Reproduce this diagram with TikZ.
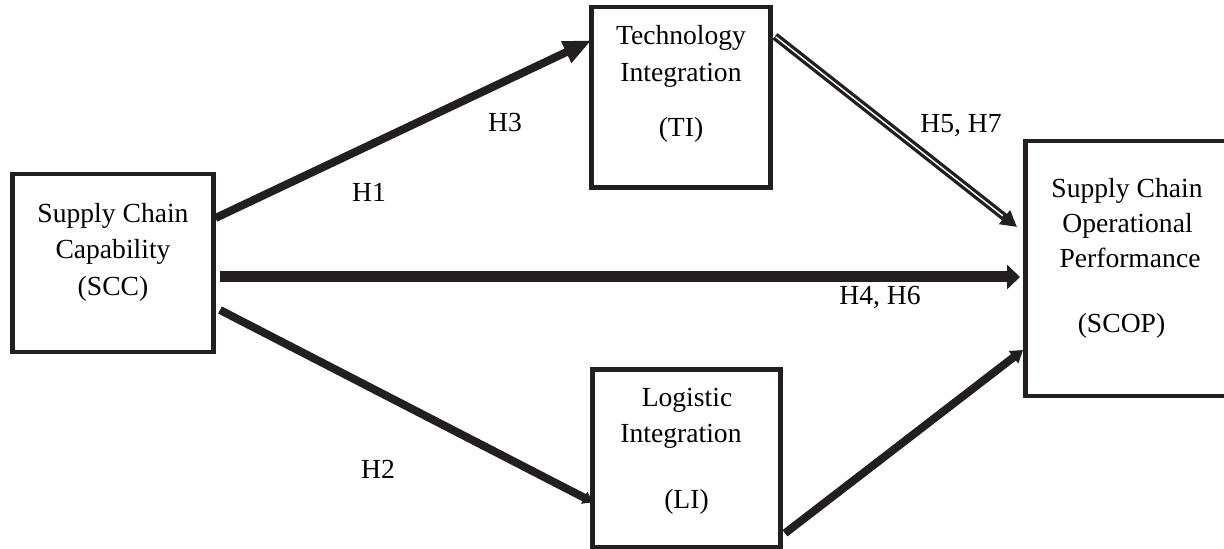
\documentclass[tikz,border=0pt]{standalone}
\usepackage{fontspec}
\setmainfont{Liberation Serif}
\usetikzlibrary{arrows.meta,calc}
\definecolor{ink}{RGB}{35,31,32}
\begin{document}
\begin{tikzpicture}[x=0.5pt,y=-0.5pt,
  box/.style={draw=ink, line width=2.4pt, rectangle, inner sep=0pt, outer sep=0pt},
  txt/.style={anchor=base, inner sep=0pt, text=black, font=\fontsize{13.8}{18}\selectfont},
  conn/.style={draw=ink, line width=4pt},
]
\clip (0,0) rectangle (1224,549);
% boxes
\node[box, minimum width=100.5pt, minimum height=89pt] (scc) at (113,263) {};
\node[box, minimum width=89.5pt, minimum height=90.25pt] (ti) at (681,97.25) {};
\node[box, minimum width=94pt, minimum height=88.75pt] (li) at (686.5,458.25) {};
\node[box, minimum width=109.75pt, minimum height=127.5pt] (scop) at (1135.25,268.5) {};
% box texts
\node[txt] (scc1) at (113,223) {Supply Chain};
\node[txt] (scc2) at (113,259) {Capability};
\node[txt] (scc3) at (113,296) {(SCC)};
\node[txt] (ti1) at (681,45) {Technology};
\node[txt] (ti2) at (681,82) {Integration};
\node[txt] (ti3) at (681,137) {(TI)};
\node[txt] (li1) at (687,407) {Logistic};
\node[txt] (li2) at (681,443) {Integration};
\node[txt] (li3) at (686.5,508) {(LI)};
\node[txt] (scop1) at (1127,198) {Supply Chain};
\node[txt] (scop2) at (1127.5,233) {Operational};
\node[txt] (scop3) at (1130,268) {Performance};
\node[txt] (scop4) at (1121.5,333) {(SCOP)};
% connectors
\draw[conn, -{Triangle[length=14pt,width=11pt]}]
  ($(scc.east)+(2,-45)$) -- ($(ti.west)+(0,-57)$);
\draw[conn, line width=5.5pt, -{Triangle[length=6.5pt,width=12pt]}]
  ($(scc.east)+(6.5,14)$) -- ($(scop.west)+(-5.5,8.5)$);
\draw[conn, -{Triangle[length=5pt,width=6.5pt]}]
  ($(scc.east)+(6.5,47)$) -- ($(li.west)+(0.5,44)$);
\draw[conn, -{Triangle[length=6pt,width=7.5pt]}]
  ($(li.east)+(4.5,75)$) -- ($(scop.west)+(-2.5,81.5)$);
\draw[conn, -{Triangle[length=8pt,width=8.5pt]}]
  ($(ti.east)+(4.5,-61)$) -- ($(scop.west)+(-8.5,-41.5)$);
\draw[white, line width=0.7pt, shorten >=9pt, shorten <=0.5pt]
  ($(ti.east)+(4.5,-61)$) -- ($(scop.west)+(-8.5,-41.5)$);
% labels
\node[txt] (h1) at (369,202) {H1};
\node[txt] (h3) at (505,132) {H3};
\node[txt] (h57) at (961,133) {H5, H7};
\node[txt] (h46) at (880,305) {H4, H6};
\node[txt] (h2) at (378,478) {H2};
\end{tikzpicture}
\end{document}
